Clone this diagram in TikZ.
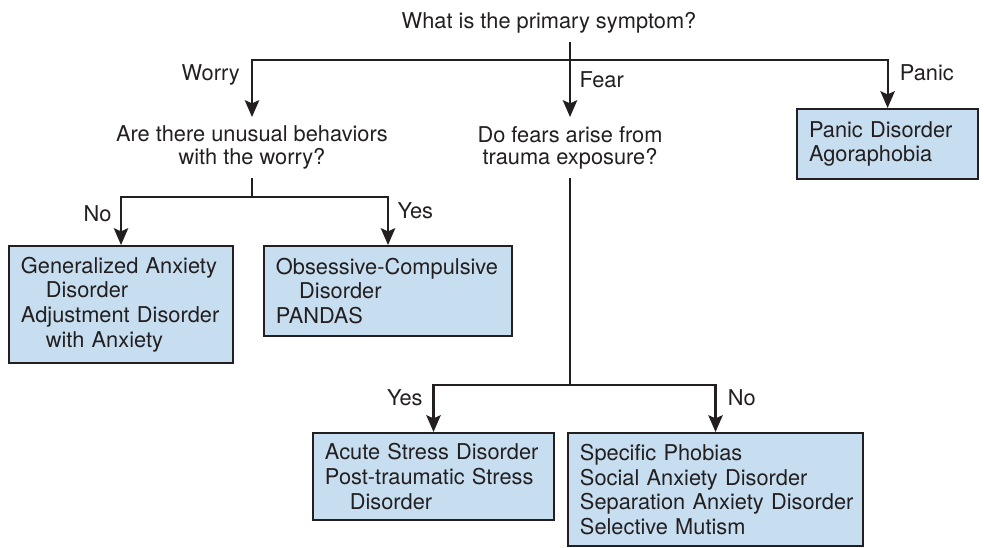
\documentclass[tikz,border=0pt]{standalone}
\usepackage{fontspec}
\setmainfont{TeX Gyre Heros}
\usetikzlibrary{arrows.meta,positioning}
\definecolor{boxblue}{HTML}{C7DEF0}
\definecolor{ink}{HTML}{231F20}

\begin{document}
\begin{tikzpicture}[
  x=0.025cm,y=-0.025cm,
  txt/.style={font=\fontsize{15.5}{16}\selectfont,text=ink},
  quest/.style={txt,align=center,inner xsep=0pt,inner ysep=0.22cm},
  box/.style={draw=ink,line width=1.4pt,fill=boxblue,txt,font=\fontsize{15.5}{17.5}\selectfont,align=left,anchor=north west,inner xsep=0.3cm},
  link/.style={line width=1.5pt,draw=ink},
  arrow/.style={link,-{Stealth[length=0.42cm,width=0.36cm,inset=0.08cm]}},
  lab/.style={txt,inner sep=0pt}
]
  \useasboundingbox (0,0) rectangle (984,547);

  % questions
  \node[quest,anchor=north] (top) at (549,3) {What is the primary symptom?};
  \node[quest,anchor=north] (worryq) at (252,117) {Are there unusual behaviors\\with the worry?};
  \node[quest,anchor=north] (fearq) at (570,117) {Do fears arise from\\trauma exposure?};

  % diagnoses
  \node[box,text width=5.0cm,minimum height=2.925cm] (gad) at (8,245)
    {Generalized Anxiety\\\hspace*{0.62cm}Disorder\\Adjustment Disorder\\\hspace*{0.62cm}with Anxiety};
  \node[box,text width=5.6cm,minimum height=2.25cm] (ocd) at (263,245)
    {\mbox{Obsessive-Compulsive}\\\hspace*{0.58cm}Disorder\\PANDAS};
  \node[box,text width=3.93cm,minimum height=1.75cm] (panic) at (796,108)
    {Panic Disorder\\Agoraphobia};
  \node[box,text width=5.425cm,minimum height=2.175cm] (asd) at (312,432)
    {\mbox{Acute Stress Disorder}\\Post-traumatic Stress\\\hspace*{0.62cm}Disorder};
  \node[box,text width=6.775cm,minimum height=2.825cm] (phob) at (567,432)
    {Specific Phobias\\Social Anxiety Disorder\\\mbox{Separation Anxiety Disorder}\\Selective Mutism};

  % branch points
  \coordinate (j0) at (570,60);
  \coordinate (j1) at (252,197);
  \coordinate (j2) at (570,385);

  \draw[link] (top.south -| j0) -- (j0);
  \draw[arrow] (j0) -| node[lab,pos=0.63,left=8pt] {Worry} (worryq);
  \draw[arrow] (j0) -- node[lab,pos=0.35,right=6pt] {Fear} (fearq);
  \draw[arrow] (j0) -| node[lab,pos=0.63,right=8pt] {Panic} (panic);

  \draw[link] (worryq.south) -- (j1);
  \draw[arrow] (j1) -| node[lab,pos=0.67,left=6pt] {No} (gad);
  \draw[arrow] (j1) -| node[lab,pos=0.64,right=6pt] {Yes} (ocd);

  \draw[link] (fearq.south) -- (j2);
  \draw[arrow] (j2) -| node[lab,pos=0.64,left=7pt] {Yes} (asd);
  \draw[arrow] (j2) -| node[lab,pos=0.64,right=8pt] {No} (phob);
\end{tikzpicture}
\end{document}
